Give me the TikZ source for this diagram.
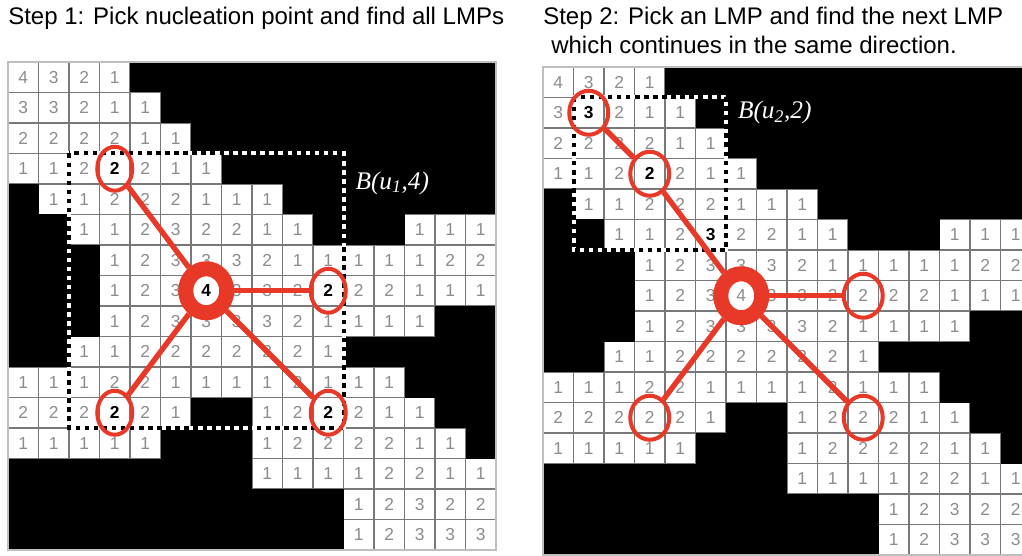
\documentclass[tikz,border=0pt]{standalone}
\usepackage{fontspec}
\setmainfont{Liberation Serif}
\setsansfont{Liberation Sans}
\usetikzlibrary{shapes.geometric}

\definecolor{lmpred}{RGB}{232,56,40}
\definecolor{cellgray}{RGB}{120,120,120}
\definecolor{numgray}{RGB}{140,140,140}

% distance values of the shape, B = background
\newcommand{\distrows}{%
  {4,3,2,1,B,B,B,B,B,B,B,B,B,B,B,B},%
  {3,3,2,1,1,B,B,B,B,B,B,B,B,B,B,B},%
  {2,2,2,2,1,1,B,B,B,B,B,B,B,B,B,B},%
  {1,1,2,2,2,1,1,B,B,B,B,B,B,B,B,B},%
  {B,1,1,2,2,2,1,1,1,B,B,B,B,B,B,B},%
  {B,B,1,1,2,3,2,2,1,1,B,B,B,1,1,1},%
  {B,B,B,1,2,3,3,3,2,1,1,1,1,1,2,2},%
  {B,B,B,1,2,3,4,3,3,2,2,2,2,1,1,1},%
  {B,B,B,1,2,3,3,3,3,2,1,1,1,1,B,B},%
  {B,B,1,1,2,2,2,2,2,2,1,B,B,B,B,B},%
  {1,1,1,2,2,1,1,1,1,2,1,1,1,B,B,B},%
  {2,2,2,2,2,1,B,B,1,2,2,2,1,1,B,B},%
  {1,1,1,1,1,B,B,B,1,2,2,2,2,1,1,B},%
  {B,B,B,B,B,B,B,B,1,1,1,1,2,2,1,1},%
  {B,B,B,B,B,B,B,B,B,B,B,1,2,3,2,2},%
  {B,B,B,B,B,B,B,B,B,B,B,1,2,3,3,3}%
}

\begin{document}
\begin{tikzpicture}[x=0.75pt, y=-0.75pt,
    title/.style={anchor=base west, inner sep=0pt, font=\sffamily\fontsize{18}{21}\selectfont},
    num/.style={inner sep=0.5pt, text=numgray, font=\sffamily\fontsize{13}{13}\selectfont},
    bnum/.style={num, text=black, fill=white, font=\sffamily\bfseries\fontsize{13}{13}\selectfont},
    lmp/.style={draw=lmpred, ellipse, line width=3pt, inner sep=0pt},
    seed/.style={draw=lmpred, ellipse, line width=11.25pt, minimum width=30.75pt, minimum height=33pt, inner sep=0pt},
    link/.style={draw=lmpred, line width=4pt},
    boxbase/.style={white, line width=3pt},
    boxdots/.style={black, line width=3pt, dash pattern=on 3.4pt off 3.4pt},
    blabel/.style={text=white, inner sep=0pt, font=\itshape\fontsize{19}{19}\selectfont}
  ]
  \useasboundingbox (0,0) rectangle (1022,556);
  \clip (0,0) rectangle (1022,556);
  \fill[white] (0,0) rectangle (1022,556);

  \node[title] (t1) at (8,25) {Step 1: Pick nucleation point and find all LMPs};
  \node[title] (t2) at (543,25) {Step 2: Pick an LMP and find the next LMP};
  \node[title] (t3) at (551,54) {which continues in the same direction.};

  % --- the two grids ---
  \foreach \gx/\gy/\g in {8/62/L, 543/67/R} {
    \begin{scope}[shift={(\gx,\gy)}, x=22.875pt, y=-22.875pt]
      \fill[white] (0,0) rectangle (16,16);
      \foreach \k in {0,...,16} {
        \draw[cellgray, line width=0.9pt] (\k,0) -- (\k,16);
        \draw[cellgray, line width=0.9pt] (0,\k) -- (16,\k);
      }
      \foreach \vals [count=\ri from 0] in \distrows {
        \foreach \val [count=\ci from 0] in \vals {
          \if B\val
            \fill[black] (\ci,\ri) rectangle ++(1,1);
          \else
            \node[num] (\g-\ri-\ci) at (\ci+0.5,\ri+0.5) {\val};
          \fi
        }
      }
      \draw[black!25, line width=0.8pt] (0,0) rectangle (16,16);
    \end{scope}
  }

  % --- Step 1: nucleation point u1 and all LMPs ---
  \begin{scope}[shift={(8,62)}, x=22.875pt, y=-22.875pt,
      lmp/.append style={minimum width=26.25pt, minimum height=33pt}]
    \node[bnum] (n1) at (6.5,7.5) {4};
    \node[bnum] (n2) at (3.5,3.5) {2};
    \node[bnum] (n3) at (10.5,7.5) {2};
    \node[bnum] (n4) at (3.5,11.5) {2};
    \node[bnum] (n5) at (10.5,11.5) {2};
    \draw[boxbase] (2,3) rectangle (11,12);
    \draw[boxdots] (2,3) rectangle (11,12);
    \node[blabel] (b1) at (12.6,3.97) {B(u\textsubscript{1},4)};
    \node[seed] (u1) at (6.5,7.5) {};
    \node[lmp] (p1) at (3.5,3.5) {};
    \node[lmp] (p2) at (10.5,7.5) {};
    \node[lmp] (p3) at (3.5,11.5) {};
    \node[lmp] (p4) at (10.5,11.5) {};
    \draw[link] (u1) -- (p1);
    \draw[link] (u1) -- (p2);
    \draw[link] (u1) -- (p3);
    \draw[link] (u1) -- (p4);
  \end{scope}

  % --- Step 2: from LMP u2 to the next LMP ---
  \begin{scope}[shift={(543,67)}, x=22.875pt, y=-22.875pt,
      lmp/.append style={minimum width=29.25pt, minimum height=33pt}]
    \node[bnum] (m1) at (1.5,1.5) {3};
    \node[bnum] (m2) at (3.5,3.5) {2};
    \node[bnum] (m3) at (5.5,5.5) {3};
    \draw[boxbase] (1,1) rectangle (6,6);
    \draw[boxdots] (1,1) rectangle (6,6);
    \node[blabel] (b2) at (7.6,1.48) {B(u\textsubscript{2},2)};
    \node[seed] (u0) at (6.5,7.5) {};
    \node[lmp] (q0) at (1.5,1.5) {};
    \node[lmp] (u2) at (3.5,3.5) {};
    \node[lmp] (q2) at (10.5,7.5) {};
    \node[lmp] (q3) at (3.5,11.5) {};
    \node[lmp] (q4) at (10.5,11.5) {};
    \draw[link] (q0) -- (u2);
    \draw[link] (u2) -- (u0);
    \draw[link] (u0) -- (q2);
    \draw[link] (u0) -- (q3);
    \draw[link] (u0) -- (q4);
  \end{scope}
\end{tikzpicture}
\end{document}
